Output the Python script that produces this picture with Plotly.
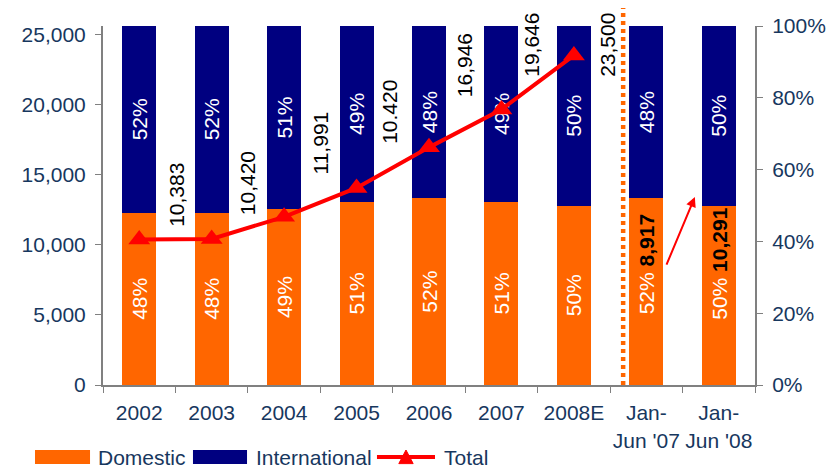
from plotly import graph_objects as go

categories = ["2002", "2003", "2004", "2005", "2006", "2007", "2008E",
              "Jan-<br>Jun '07", "Jan-<br>Jun '08"]
domestic_pct = [48, 48, 49, 51, 52, 51, 50, 52, 50]
international_pct = [52, 52, 51, 49, 48, 49, 50, 48, 50]
total = [10383, 10420, 11991, 14050, 16946, 19646, 23500, None, None]
total_labels = ["10,383", "10,420", "11,991", "10.420", "16,946", "19,646", "23,500"]
half_year_totals = ["8,917", "10,291"]

ORANGE = "#FF6600"
NAVY = "#000080"
RED = "#FF0000"
TEXT = "#17375E"
AXIS = "#808080"
FONT = "Liberation Sans, Arial, sans-serif"

fig = go.Figure()

dom_text = [f"{v}%" for v in domestic_pct[:7]] + ["", ""]
fig.add_trace(
    go.Bar(
        x=categories,
        y=domestic_pct,
        name="Domestic",
        marker=dict(color=ORANGE, line=dict(width=0)),
        text=dom_text,
        textposition="inside",
        insidetextanchor="middle",
        textangle=-90,
        insidetextfont=dict(color="white", size=21, family=FONT),
        yaxis="y",
    )
)
fig.add_trace(
    go.Bar(
        x=categories,
        y=international_pct,
        name="International",
        marker=dict(color=NAVY, line=dict(width=0)),
        text=[f"{v}%" for v in international_pct],
        textposition="inside",
        insidetextanchor="middle",
        textangle=-90,
        insidetextfont=dict(color="white", size=21, family=FONT),
        yaxis="y",
    )
)
fig.add_trace(
    go.Scatter(
        x=categories,
        y=total,
        name="Total",
        mode="lines+markers",
        line=dict(color=RED, width=4),
        marker=dict(symbol="triangle-up", size=19, color=RED),
        yaxis="y2",
    )
)

# rotated value labels next to each yearly bar (x offset in category units, y in totals units)
label_pos = [(0.52, 13550), (1.49, 14400), (2.5, 17250), (3.46, 19470),
             (4.5, 22820), (5.42, 24250), (6.47, 24250)]
annotations = []
for txt, (lx, ly) in zip(total_labels, label_pos):
    annotations.append(dict(
        x=lx, y=ly, xref="x", yref="y2", text=txt, showarrow=False,
        textangle=-90, font=dict(color="black", size=21, family=FONT),
    ))

# Jan-Jun bars: domestic share plus bold total
for i, tot in enumerate(half_year_totals):
    idx = 7 + i
    annotations.append(dict(
        x=idx, y=33.7, xref="x", yref="y",
        text=f"<span style='color:white'>{domestic_pct[idx]}%</span> <b>{tot}</b>",
        showarrow=False, textangle=-90,
        font=dict(color="black", size=21, family=FONT),
    ))

# growth arrow between the half-year bars
annotations.append(dict(
    x=7.67, y=52.4, ax=7.27, ay=33.1, xref="x", yref="y", axref="x", ayref="y",
    text="", showarrow=True, arrowhead=2, arrowsize=1, arrowwidth=2,
    arrowcolor=RED, standoff=0, startstandoff=0,
))

# custom legend
legend_font = dict(color=TEXT, size=21, family=FONT)
LEG_Y = -0.2006
annotations += [
    dict(x=-0.0107, y=LEG_Y, xref="paper", yref="paper", text="Domestic",
         showarrow=False, xanchor="left", yanchor="middle", font=legend_font),
    dict(x=0.2316, y=LEG_Y, xref="paper", yref="paper", text="International",
         showarrow=False, xanchor="left", yanchor="middle", font=legend_font),
    dict(x=0.52, y=LEG_Y, xref="paper", yref="paper", text="Total",
         showarrow=False, xanchor="left", yanchor="middle", font=legend_font),
]

shapes = [
    # dotted separator between annual and half-year data
    dict(type="line", xref="x", yref="paper", x0=6.68, x1=6.68, y0=0, y1=1.058,
         line=dict(color=ORANGE, width=4.5, dash="4px,4px")),
    dict(type="rect", xref="paper", yref="paper", x0=-0.1043, x1=-0.0199,
         y0=-0.2201, y1=-0.1811, line=dict(width=0), fillcolor=ORANGE),
    dict(type="rect", xref="paper", yref="paper", x0=0.138, x1=0.2209,
         y0=-0.2201, y1=-0.1811, line=dict(width=0), fillcolor=NAVY),
    dict(type="line", xref="paper", yref="paper", x0=0.4202, x1=0.5092,
         y0=LEG_Y, y1=LEG_Y, line=dict(color=RED, width=4)),
    dict(type="path", xref="paper", yref="paper",
         path="M 0.4537,-0.2190 L 0.4757,-0.2190 L 0.4647,-0.1811 Z",
         fillcolor=RED, line=dict(color=RED, width=1)),
]

axis_common = dict(
    ticks="outside",
    ticklen=6,
    tickcolor=AXIS,
    showline=True,
    linecolor=AXIS,
    linewidth=2,
    showgrid=False,
    automargin=False,
    tickfont=dict(size=21, color=TEXT, family=FONT),
)

# page body has an 8px margin, so the figure is 8px smaller and shifted
fig.update_layout(
    width=829,
    height=463,
    barmode="stack",
    bargap=0.53,
    showlegend=False,
    plot_bgcolor="white",
    paper_bgcolor="white",
    font=dict(family=FONT, color=TEXT, size=21),
    margin=dict(l=95, r=82, t=18, b=86),
    xaxis=dict(
        type="category",
        range=[-0.5, len(categories) - 0.5],
        tickson="boundaries",
        tickangle=0,
        ticklabelstandoff=8,
        **axis_common,
    ),
    yaxis=dict(
        side="right",
        range=[0, 100],
        dtick=20,
        ticksuffix="%",
        zeroline=False,
        ticklabelstandoff=5,
        **axis_common,
    ),
    yaxis2=dict(
        side="left",
        overlaying="y",
        range=[0, 25600],
        dtick=5000,
        tickformat=",",
        zeroline=False,
        ticklabelstandoff=5,
        **axis_common,
    ),
    annotations=annotations,
    shapes=shapes,
)

fig.write_html("out.html")
